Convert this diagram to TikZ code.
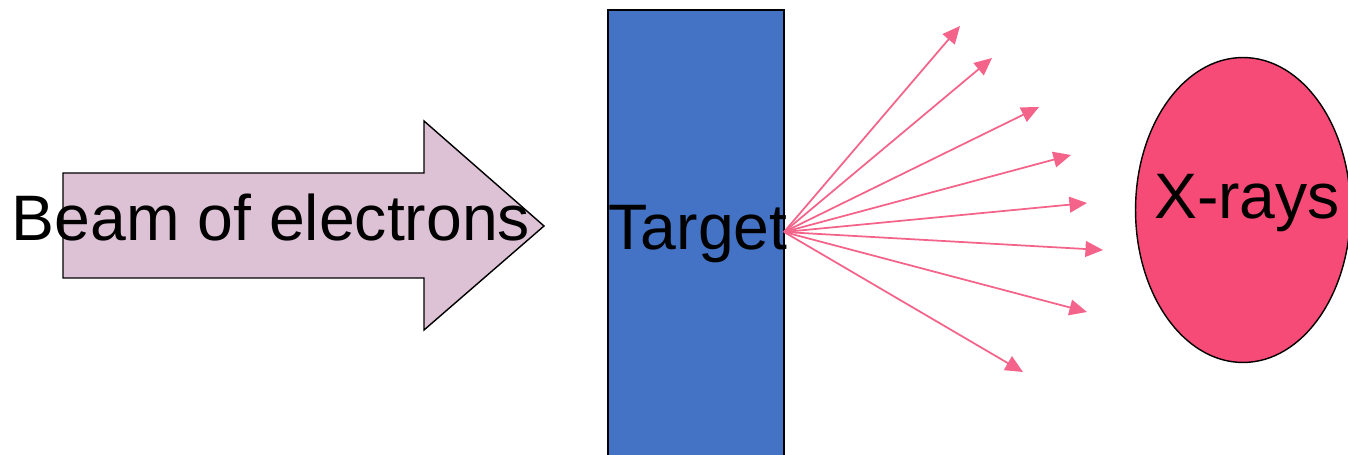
\documentclass[tikz,border=0pt]{standalone}
\usepackage{fontspec}
\setmainfont{Liberation Sans}
\usetikzlibrary{shapes.geometric,arrows.meta}

\definecolor{beampink}{HTML}{DDC2D6}
\definecolor{targetblue}{HTML}{4472C4}
\definecolor{xraypink}{HTML}{F74B77}
\definecolor{raypink}{HTML}{F4648A}

\tikzset{
  bigtext/.style={font=\fontsize{36.6}{44}\selectfont, inner sep=0pt},
  outline/.style={draw=black, line width=0.8pt},
  ray/.style={raypink, line width=1pt, -{Triangle[length=10pt,width=9pt]}},
}

\begin{document}
\begin{tikzpicture}[x=0.02cm,y=-0.02cm]
    \useasboundingbox (0,0) rectangle (1348,455);

    % Beam of electrons
    \draw[outline, fill=beampink] (63,173) -- (424,173) -- (424,121) -- (544,226)
        -- (424,330) -- (424,278) -- (63,278) -- cycle;
    \node[bigtext] (beam) at (271,218) {Beam of electrons};

    % Target
    \draw[outline, fill=targetblue] (608,10) rectangle (784,470);
    \node[bigtext] (target) at (698,234) {Target};

    % X-rays
    \node[outline, ellipse, fill=xraypink, minimum width=4.3cm, minimum height=6.1cm,
          inner sep=0pt] (xray) at (1243,210) {};
    \node[bigtext] (xtext) at (1247,203) {X-rays};

    % rays leaving the target
    \coordinate (src) at (784,232);
    \foreach \i/\x/\y in {1/960/26, 2/992/58, 3/1039/107, 4/1071/155,
                          5/1087/203, 6/1103/250, 7/1087/312, 8/1023/372} {
        \coordinate (r\i) at (\x,\y);
        \draw[ray] (src) -- (r\i);
    }
\end{tikzpicture}
\end{document}
